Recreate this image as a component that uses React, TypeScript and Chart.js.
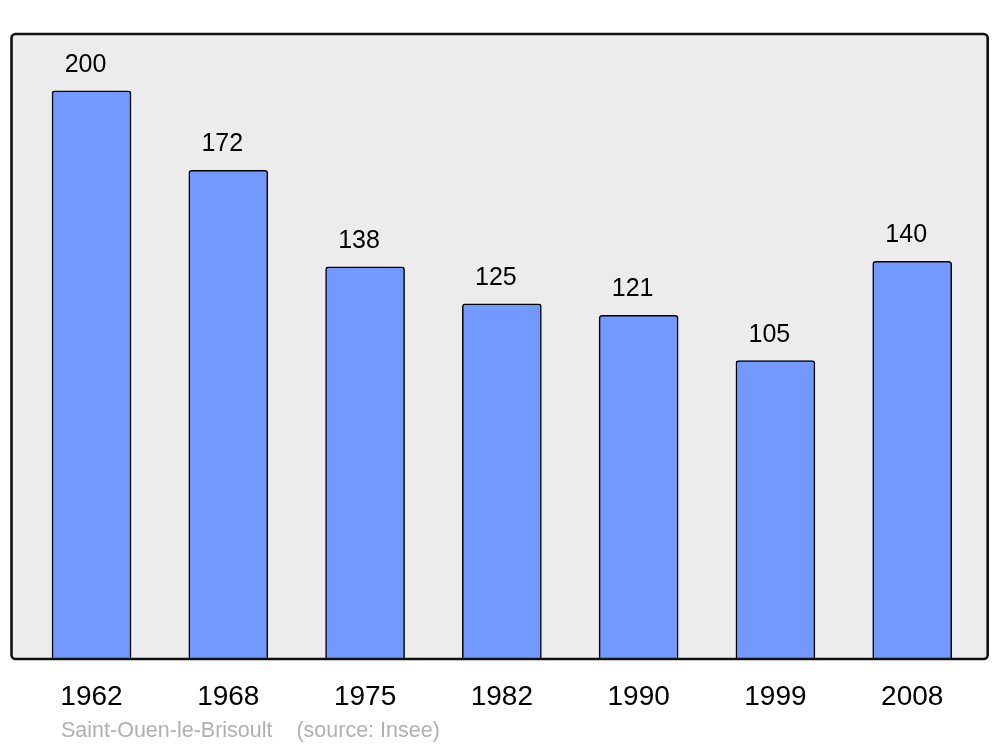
import React, { useEffect, useRef } from "react";
import { Chart, registerables } from "chart.js";

Chart.register(...registerables);

const years: string[] = ["1962", "1968", "1975", "1982", "1990", "1999", "2008"];
const population: number[] = [200, 172, 138, 125, 121, 105, 140];
const footerText = "Saint-Ouen-le-Brisoult    (source: Insee)";
const FONT = "'Liberation Sans', Arial, sans-serif";

const framePlugin = {
  id: "frame",
  beforeDraw(chart: any) {
    const { ctx, chartArea } = chart;
    const { left, top, right, bottom } = chartArea;
    ctx.save();
    ctx.beginPath();
    ctx.roundRect(left, top, right - left, bottom - top, 4);
    ctx.fillStyle = "#ececec";
    ctx.fill();
    ctx.restore();
  },
  afterDatasetsDraw(chart: any) {
    const { ctx, chartArea } = chart;
    const { left, top, right, bottom } = chartArea;
    ctx.save();
    ctx.beginPath();
    ctx.roundRect(left, top, right - left, bottom - top, 4);
    ctx.lineWidth = 2.6;
    ctx.strokeStyle = "#111";
    ctx.stroke();
    // value labels
    const meta = chart.getDatasetMeta(0);
    ctx.fillStyle = "#000";
    ctx.font = `25px ${FONT}`;
    ctx.textAlign = "center";
    ctx.textBaseline = "alphabetic";
    meta.data.forEach((el: any, i: number) => {
      ctx.fillText(String(population[i]), el.x - 6, el.y - 19);
    });
    // footer
    ctx.fillStyle = "#b0b0b0";
    ctx.font = `21.5px ${FONT}`;
    ctx.textAlign = "left";
    ctx.fillText(footerText, 61, 737);
    ctx.restore();
  },
};

export default function App() {
  const ref = useRef<HTMLCanvasElement | null>(null);
  useEffect(() => {
    document.body.style.margin = "0";
    const canvas = ref.current!;
    const chart = new Chart(canvas, {
      type: "bar",
      data: {
        datasets: [
          {
            data: population.map((v, i) => ({ x: i, y: v })),
            backgroundColor: "#7399ff",
            borderColor: "#000",
            borderWidth: 1.5,
            borderRadius: 3,
            borderSkipped: "bottom",
            barThickness: 79,
          },
        ],
      },
      options: {
        responsive: false,
        animation: false,
        layout: { padding: { left: 11.5, right: 12.3, top: 34, bottom: 0 } },
        plugins: { legend: { display: false }, tooltip: { enabled: false } },
        scales: {
          x: {
            type: "linear",
            offset: false,
            min: -0.585,
            max: 6.552,
            grid: { display: false, offset: false },
            border: { display: false },
            afterFit(scale: any) {
              scale.height = 88;
            },
            afterBuildTicks(scale: any) {
              scale.ticks = years.map((_, i) => ({ value: i }));
            },
            ticks: {
              padding: 13,
              color: "#000",
              font: { family: FONT, size: 28 },
              callback: (v: any) => years[v] ?? "",
            },
          },
          y: {
            display: false,
            min: 0,
            max: 220,
          },
        },
      },
      plugins: [framePlugin],
    });
    return () => chart.destroy();
  }, []);
  return (
    <div style={{ width: 1000, height: 747, background: "#fff" }}>
      <canvas ref={ref} width={1000} height={747} />
    </div>
  );
}
